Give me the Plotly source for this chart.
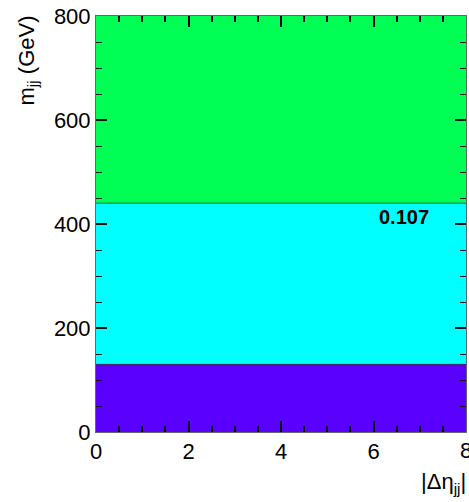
import plotly.graph_objects as go

# m_jj band edges (GeV) and the fill colour of each band
mjj_edges = [0, 130, 440, 800]
band_colors = ["rgb(90,0,255)", "rgb(0,255,255)", "rgb(0,255,85)"]

# |Delta eta_jj| range covered by every band
deta_edges = [0, 8]

# bin content label
label_text = "0.107"
label_x, label_y = 6.66, 413

# one z level per band, mapped to its colour through a stepped colour scale
n = len(band_colors)
z = [[i] for i in range(n)]
colorscale = []
for i, col in enumerate(band_colors):
    colorscale.append([i / n, col])
    colorscale.append([(i + 1) / n, col])

fig = go.Figure(go.Heatmap(
    x=deta_edges, y=mjj_edges, z=z, zmin=-0.5, zmax=n - 0.5,
    colorscale=colorscale, showscale=False, hoverinfo="skip",
))

# thin separators between bands
for edge in mjj_edges[1:-1]:
    fig.add_trace(go.Scatter(x=deta_edges, y=[edge, edge], mode="lines",
                             line=dict(color="rgba(60,60,60,0.8)", width=1),
                             showlegend=False, hoverinfo="skip"))

fig.add_annotation(x=label_x, y=label_y, text="<b>" + label_text + "</b>", showarrow=False,
                   font=dict(size=20, color="black", family="Liberation Sans"))

tick_font = dict(size=22, family="Liberation Sans", color="black")

fig.update_xaxes(range=deta_edges, ticks="inside", ticklen=11, tickcolor="black", tickwidth=2,
                 showline=True, mirror="ticks", linecolor="#666666", showgrid=False, zeroline=False,
                 dtick=2, tickfont=tick_font,
                 minor=dict(dtick=0.5, ticks="inside", ticklen=6, tickcolor="black"))
fig.update_yaxes(range=[mjj_edges[0], mjj_edges[-1]], ticks="inside", ticklen=11, tickcolor="#111111",
                 tickwidth=2, showline=True, mirror="ticks", linecolor="#666666", showgrid=False,
                 zeroline=False, dtick=200, tickfont=tick_font,
                 minor=dict(dtick=50, ticks="inside", ticklen=6, tickcolor="#111111", tickwidth=1))

# last x tick label sits at the page edge, so it is placed as an annotation
fig.add_annotation(x=deta_edges[-1], xref="x", y=0, yref="paper", yanchor="top", yshift=-4,
                   text=str(deta_edges[-1]), showarrow=False, font=tick_font)

fig.add_annotation(xref="paper", yref="paper", x=1.005, y=-0.085, xanchor="right", yanchor="top",
                   text="|Δη<sub>jj</sub>|", showarrow=False,
                   font=dict(size=22, family="Liberation Sans", color="black"))
fig.add_annotation(xref="paper", yref="paper", x=-0.185, y=1.005, xanchor="center", yanchor="top",
                   text="m<sub>jj</sub> (GeV)", textangle=-90, showarrow=False,
                   font=dict(size=22, family="Liberation Sans", color="black"))

fig.update_layout(
    width=469, height=502,
    margin=dict(l=96, r=3, t=16, b=70),
)

fig.write_html("out.html")
